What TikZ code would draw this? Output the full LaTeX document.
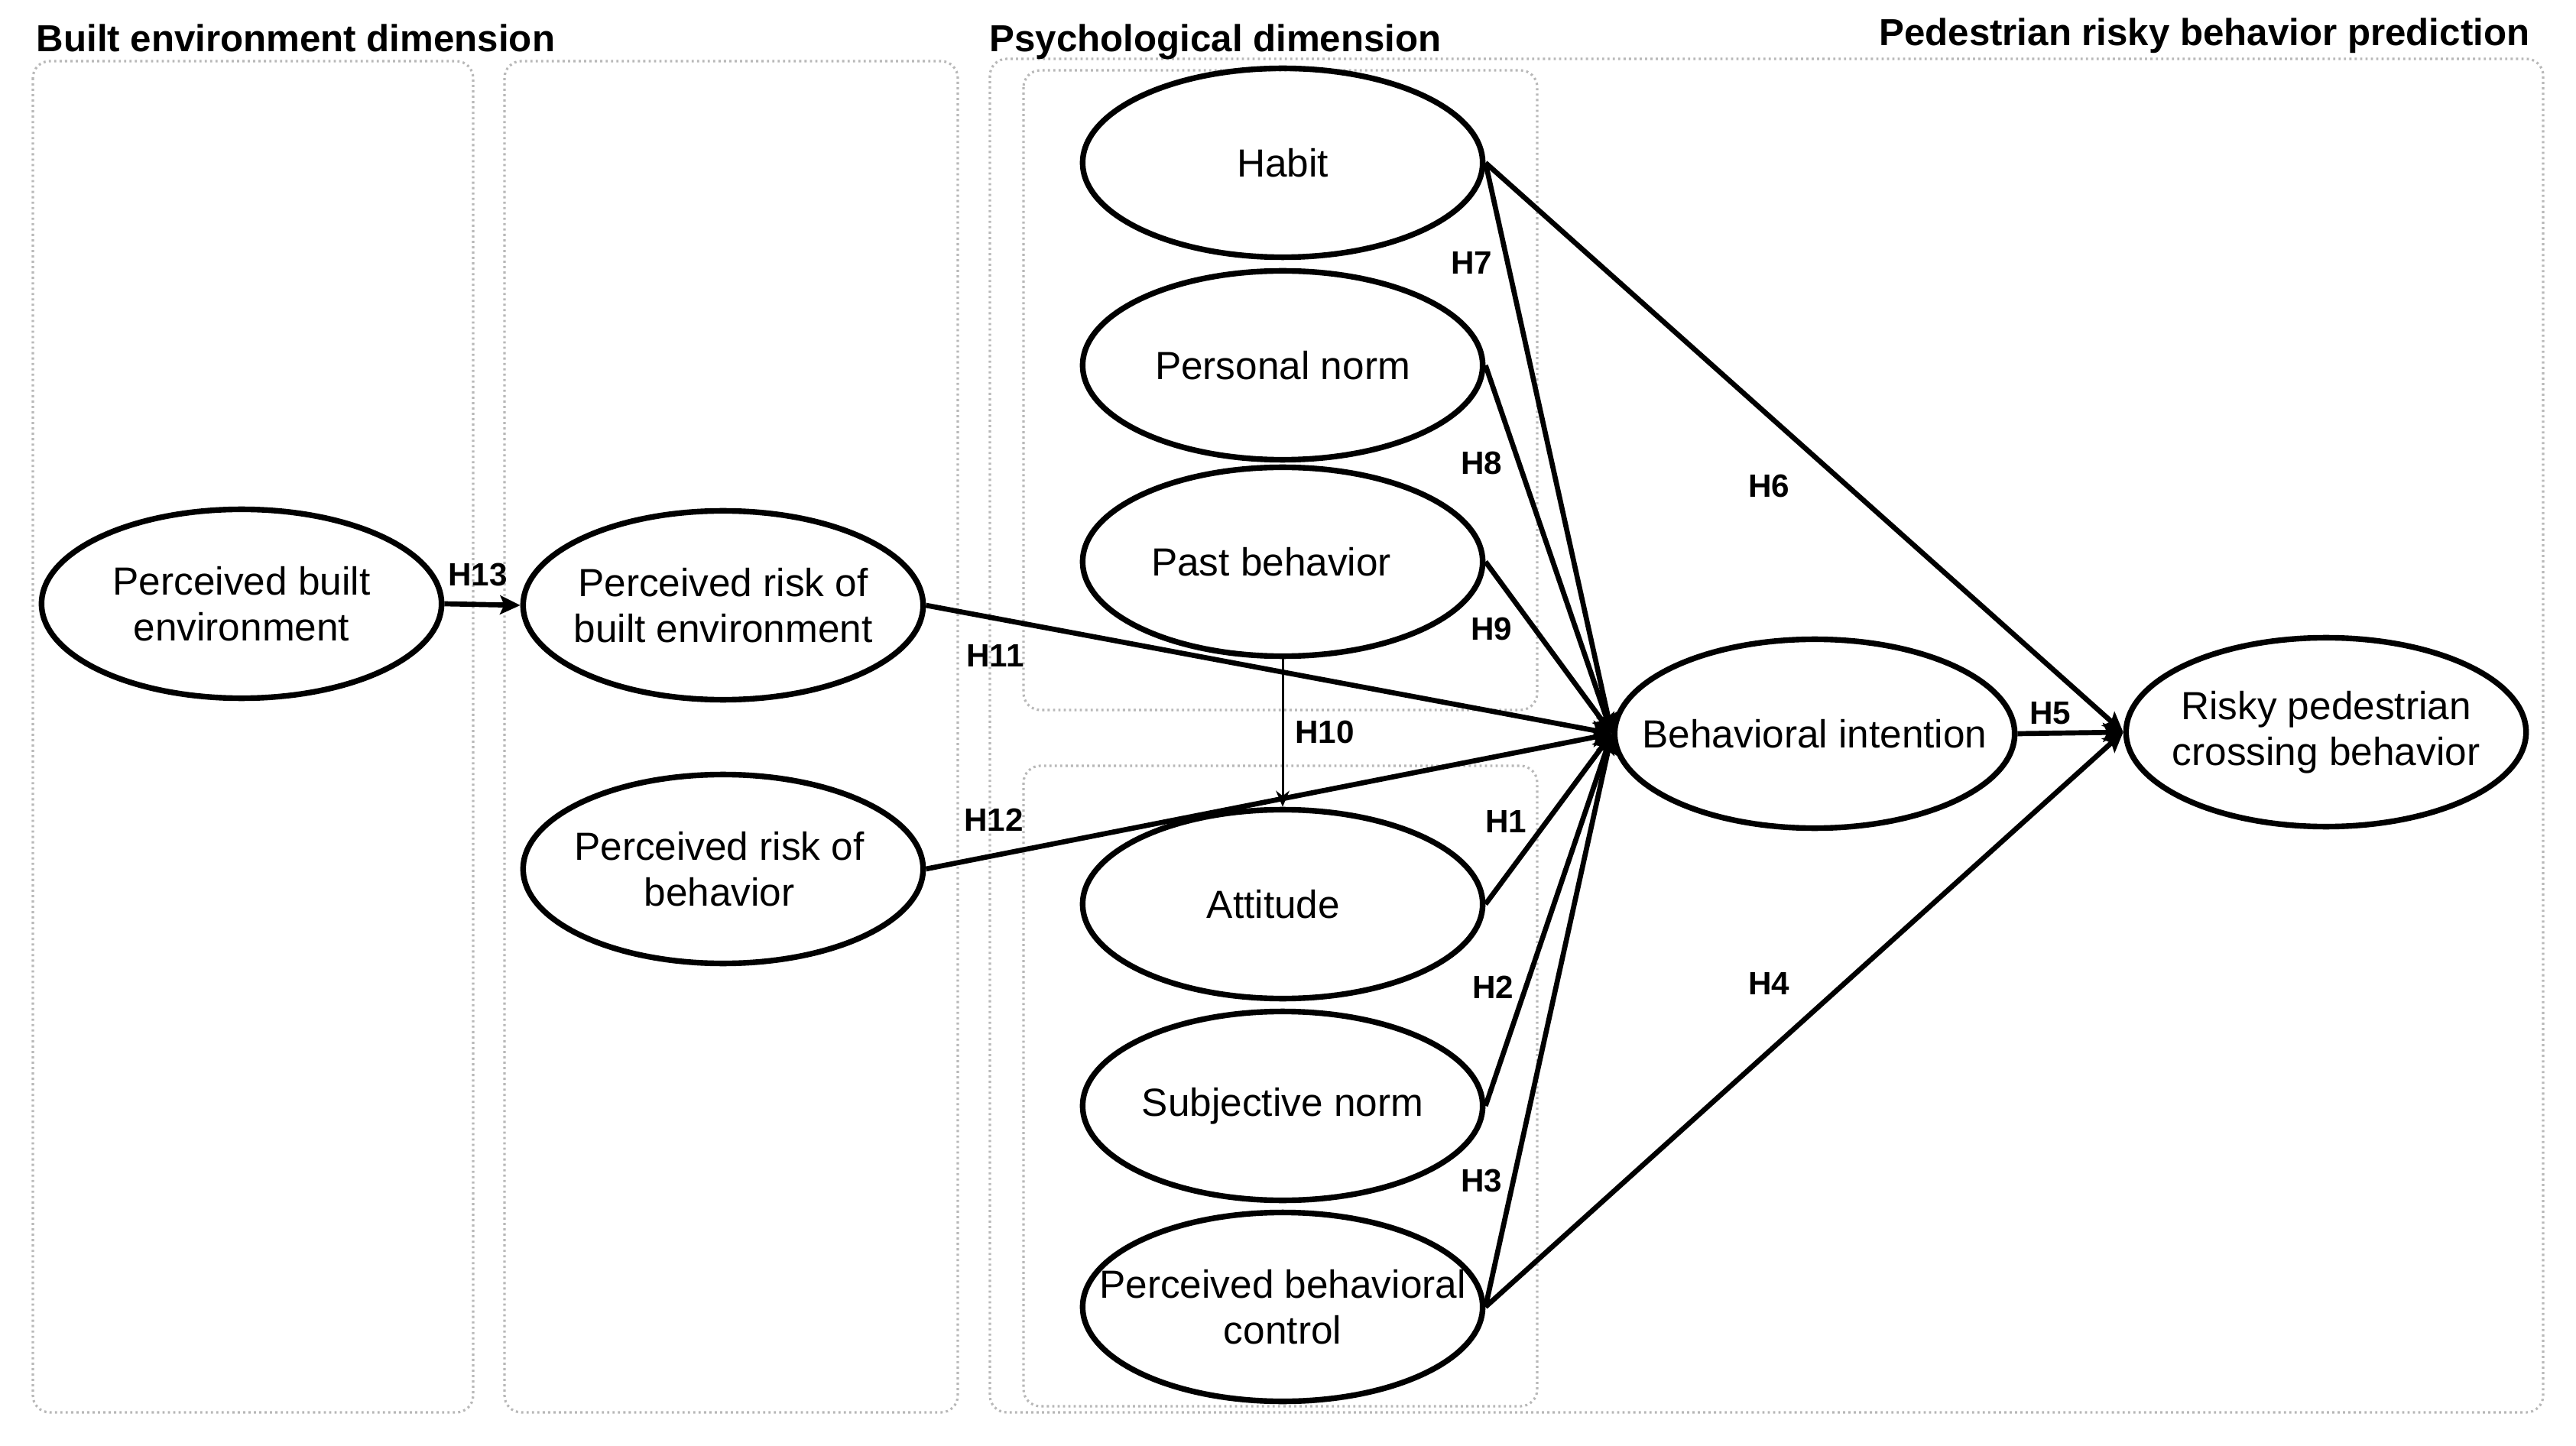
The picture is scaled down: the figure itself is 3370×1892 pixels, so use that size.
\documentclass[tikz,border=0pt]{standalone}
\usepackage{fontspec}
\setmainfont{Liberation Sans}
\usetikzlibrary{shapes.geometric,arrows.meta}
\begin{document}
\begin{tikzpicture}[x=0.01cm,y=-0.01cm,
  latent/.style={draw, ellipse, line width=2.1pt, minimum width=5.23cm, minimum height=2.47cm, inner sep=0pt},
  ltext/.style={align=center, inner sep=0pt, font=\fontsize{14.6}{17}\selectfont},
  conn/.style={line width=1.9pt, -{Stealth[length=7.5pt,width=7pt,inset=1.5pt]}},
  thinconn/.style={line width=0.85pt, -{Stealth[length=6pt,width=5pt]}},
  hlab/.style={font=\fontsize{12}{14}\selectfont\bfseries, inner sep=1pt},
  region/.style={draw=black!28, line width=0.9pt, dash pattern=on 0.8pt off 1.2pt, rounded corners=0.22cm},
  head/.style={font=\fontsize{14}{16}\selectfont\bfseries, inner sep=0pt}]
\useasboundingbox (0,0) rectangle (3370,1892);
\fill[white] (0,0) rectangle (3370,1892);

% regions
\draw[region] (43,80) rectangle (619,1848);
\draw[region] (660,80) rectangle (1253,1848);
\draw[region] (1295,77) rectangle (3327,1848);
\draw[region] (1339,92) rectangle (2011,929);
\draw[region] (1339,1002) rectangle (2011,1840);

% headings
\node[head, anchor=base west] (hbe) at (47,68) {Built environment dimension};
\node[head, anchor=base west] (hps) at (1294,68) {Psychological dimension};
\node[head, anchor=base east] (hpr) at (3310,60) {Pedestrian risky behavior prediction};

% latent variables
\node[latent] (pbe) at (316,790) {};
\node[latent] (prbe) at (946,792) {};
\node[latent] (prb) at (946,1137) {};
\node[latent] (hab) at (1678,213) {};
\node[latent] (pn) at (1678,478) {};
\node[latent] (pb) at (1678,735) {};
\node[latent] (att) at (1678,1183) {};
\node[latent] (sn) at (1678,1447) {};
\node[latent] (pbc) at (1678,1710) {};
\node[latent] (bi) at (2374,960) {};
\node[latent] (rpc) at (3043,958) {};

\node[ltext] (pbe-t) at (pbe) {Perceived built\\environment};
\node[ltext] (prbe-t) at (prbe) {Perceived risk of\\built environment};
\node[ltext] (prb-t) at ([xshift=-0.05cm]prb.center) {Perceived risk of\\behavior};
\node[ltext] (hab-t) at (hab) {Habit};
\node[ltext] (pn-t) at (pn) {Personal norm};
\node[ltext] (pb-t) at ([xshift=-0.15cm]pb.center) {Past behavior};
\node[ltext] (att-t) at ([xshift=-0.12cm]att.center) {Attitude};
\node[ltext] (sn-t) at (sn) {Subjective norm};
\node[ltext] (pbc-t) at (pbc) {Perceived behavioral\\control};
\node[ltext] (bi-t) at (bi) {Behavioral intention};
\node[ltext] (rpc-t) at (rpc) {Risky pedestrian\\crossing behavior};

% connectors
\draw[conn] (pbe.east) -- (prbe.west);
\draw[conn] (prbe.east) -- (bi.west);
\draw[conn] (prb.east) -- (bi.west);
\draw[conn] (hab.east) -- (bi.west);
\draw[conn] (pn.east) -- (bi.west);
\draw[conn] (pb.east) -- (bi.west);
\draw[conn] (att.east) -- (bi.west);
\draw[conn] (sn.east) -- (bi.west);
\draw[conn] (pbc.east) -- (bi.west);
\draw[conn] (hab.east) -- (rpc.west);
\draw[conn] (pbc.east) -- (rpc.west);
\draw[conn] (bi.east) -- (rpc.west);
\draw[thinconn] (pb.south) -- (att.north);

% labels
\node[hlab] (l13) at (625,752) {H13};
\node[hlab] (l11) at (1302,858) {H11};
\node[hlab] (l12) at (1300,1073) {H12};
\node[hlab] (l7) at (1925,344) {H7};
\node[hlab] (l6) at (2314,636) {H6};
\node[hlab] (l8) at (1938,606) {H8};
\node[hlab] (l9) at (1951,823) {H9};
\node[hlab] (l10) at (1733,958) {H10};
\node[hlab] (l1) at (1970,1075) {H1};
\node[hlab] (l2) at (1953,1292) {H2};
\node[hlab] (l3) at (1938,1545) {H3};
\node[hlab] (l4) at (2314,1287) {H4};
\node[hlab] (l5) at (2682,933) {H5};
\end{tikzpicture}
\end{document}
